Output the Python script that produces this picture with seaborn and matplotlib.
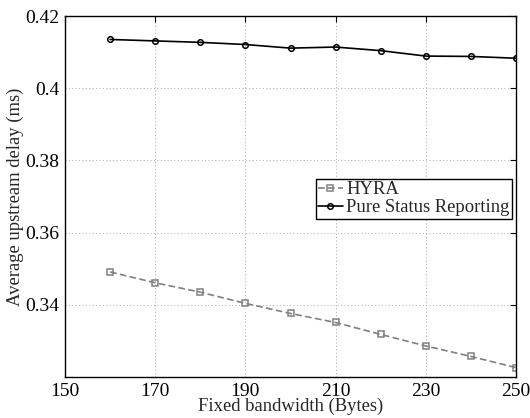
import matplotlib
matplotlib.use("Agg")
import matplotlib.pyplot as plt
import seaborn as sns
import pandas as pd

bandwidth = [160, 170, 180, 190, 200, 210, 220, 230, 240, 250]
hyra = [0.3491, 0.3461, 0.3435, 0.3404, 0.3376, 0.3351, 0.3318, 0.3286, 0.3257, 0.3226]
pure = [0.4135, 0.4131, 0.4127, 0.4121, 0.4111, 0.4114, 0.4104, 0.4089, 0.4088, 0.4083]
xticks = [150, 170, 190, 210, 230, 250]
yticks = [0.34, 0.36, 0.38, 0.40, 0.42]
ytick_labels = ["0.34", "0.36", "0.38", "0.4", "0.42"]

sns.set_style("white")
plt.rcParams['font.family'] = ['Liberation Serif', 'DejaVu Serif']

df = pd.DataFrame({"bw": bandwidth + bandwidth,
                   "delay": hyra + pure,
                   "series": ["HYRA"] * len(hyra) + ["Pure Status Reporting"] * len(pure)})

fig = plt.figure(figsize=(5.30, 4.18), dpi=100)
ax = fig.add_axes([65/530, 1 - 377/418, 451/530, 361/418])

sns.lineplot(data=df[df.series == "HYRA"], x="bw", y="delay", ax=ax,
             color="#808080", linestyle=(0, (4, 2)), linewidth=1.2,
             marker="s", markersize=4, markerfacecolor="none",
             markeredgecolor="#808080", markeredgewidth=1.1, label="HYRA")
sns.lineplot(data=df[df.series == "Pure Status Reporting"], x="bw", y="delay", ax=ax,
             color="black", linewidth=1.2,
             marker="o", markersize=4, markerfacecolor="none",
             markeredgecolor="black", markeredgewidth=1.1, label="Pure Status Reporting")

ax.set_xlim(150, 250)
ax.set_ylim(0.32, 0.42)
ax.set_xticks(xticks)
ax.set_yticks(yticks)
ax.set_yticklabels(ytick_labels)
ax.grid(True, linestyle=(0, (1, 2.5)), color="#a8a8a8", linewidth=0.7)
ax.tick_params(direction="in", top=True, right=True, length=4, width=0.8,
               labelsize=14, colors="black", pad=4)
for s in ax.spines.values():
    s.set_color("black")
    s.set_linewidth(1.0)
ax.set_xlabel("Fixed bandwidth (Bytes)", fontsize=13.4, labelpad=-1)
ax.set_ylabel("Average upstream delay (ms)", fontsize=13.4, labelpad=1)

leg = ax.legend(loc="lower right", bbox_to_anchor=(0.992, 0.437), fontsize=13.4,
                frameon=True, fancybox=False, edgecolor="black", framealpha=1,
                handlelength=1.3, handletextpad=0.2, borderpad=0.15,
                labelspacing=0.05, borderaxespad=0)
leg.get_frame().set_linewidth(1.0)

fig.savefig("out.png", dpi=100)
